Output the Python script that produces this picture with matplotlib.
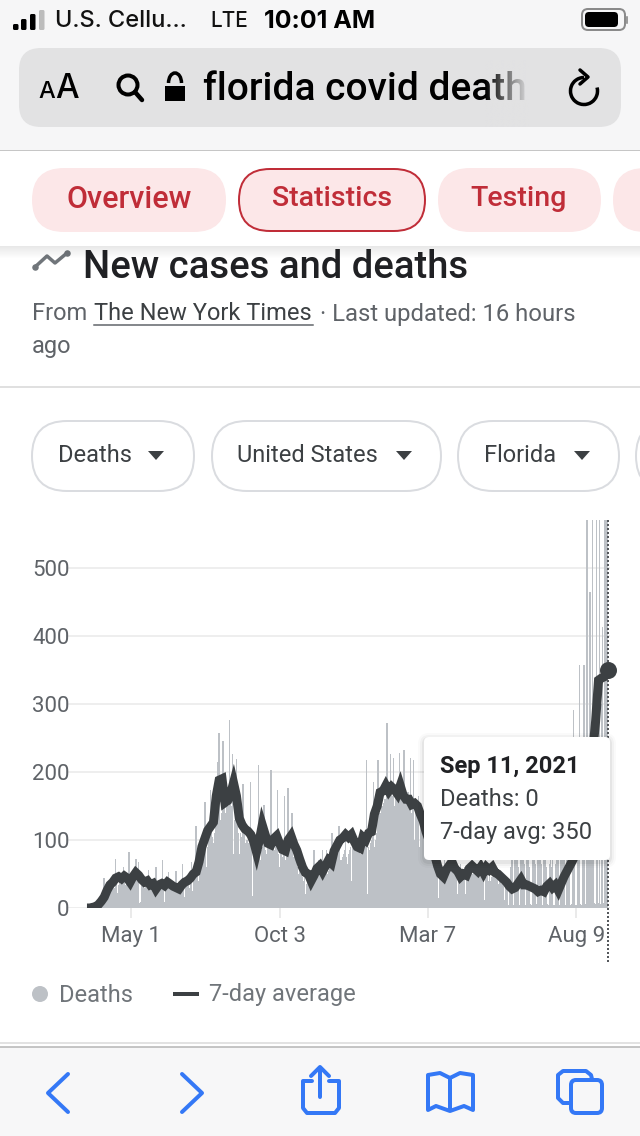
#!/usr/bin/env python
# -*- coding: utf-8 -*-

import numpy as np
import matplotlib
matplotlib.use("Agg")
import matplotlib.pyplot as plt
from matplotlib.patches import FancyBboxPatch, Rectangle, Circle, Arc, Polygon

plt.rcParams["font.family"] = ["Roboto", "DejaVu Sans"]

# Daily deaths from Mar 16, 2020, one row per week
daily_deaths = [
    0, 0, 1, 0, 2, 1, 3,
    3, 2, 4, 5, 6, 3, 5,
    7, 9, 12, 10, 44, 20, 14,
    20, 24, 28, 30, 25, 27, 33,
    30, 28, 72, 40, 22, 34, 38,
    36, 40, 38, 60, 41, 34, 22,
    38, 42, 83, 45, 42, 36, 30,
    40, 36, 72, 44, 48, 68, 7,
    9, 38, 42, 40, 30, 36, 34,
    36, 56, 40, 38, 32, 14, 30,
    28, 30, 60, 35, 30, 12, 28,
    32, 30, 70, 38, 9, 30, 32,
    30, 53, 35, 30, 28, 34, 20,
    34, 32, 54, 30, 7, 32, 28,
    30, 34, 65, 36, 16, 34, 38,
    36, 40, 30, 42, 68, 25, 42,
    44, 48, 120, 58, 40, 20, 52,
    60, 70, 85, 75, 156, 70, 60,
    90, 100, 110, 173, 115, 105, 95,
    110, 125, 140, 215, 150, 257, 120,
    130, 140, 245, 150, 75, 140, 150,
    140, 150, 276, 160, 150, 227, 80,
    130, 140, 219, 130, 110, 80, 110,
    105, 100, 183, 110, 95, 70, 100,
    95, 90, 100, 186, 100, 17, 85,
    90, 80, 95, 100, 210, 85, 70,
    85, 90, 95, 151, 85, 7, 80,
    90, 85, 95, 203, 85, 7, 90,
    85, 95, 100, 173, 80, 60, 85,
    85, 75, 90, 164, 70, 45, 100,
    177, 95, 90, 100, 140, 60, 75,
    75, 70, 65, 60, 50, 65, 55,
    50, 45, 40, 50, 20, 35, 40,
    35, 40, 38, 30, 45, 25, 85,
    40, 35, 45, 50, 70, 20, 50,
    45, 85, 50, 55, 60, 85, 50,
    55, 60, 65, 70, 110, 15, 60,
    65, 70, 75, 80, 120, 70, 30,
    70, 75, 80, 85, 100, 75, 65,
    80, 85, 90, 40, 95, 90, 85,
    90, 85, 100, 60, 95, 80, 70,
    85, 90, 95, 90, 100, 218, 20,
    90, 85, 95, 100, 105, 186, 90,
    100, 110, 120, 218, 130, 140, 135,
    150, 145, 155, 160, 140, 272, 165,
    160, 165, 227, 170, 165, 220, 150,
    170, 165, 175, 180, 228, 120, 165,
    170, 160, 233, 175, 110, 160, 170,
    165, 150, 220, 140, 155, 218, 100,
    150, 145, 140, 165, 90, 135, 130,
    125, 120, 130, 135, 120, 110, 100,
    90, 80, 100, 70, 85, 75, 65,
    70, 55, 60, 15, 65, 50, 60,
    60, 50, 70, 15, 45, 65, 55,
    40, 65, 25, 55, 60, 50, 45,
    50, 60, 20, 55, 40, 65, 50,
    55, 45, 60, 20, 50, 60, 45,
    55, 60, 25, 50, 45, 55, 50,
    60, 50, 45, 20, 55, 60, 50,
    50, 55, 12, 50, 45, 50, 40,
    50, 40, 10, 45, 40, 50, 45,
    40, 45, 10, 35, 40, 15, 35,
    35, 40, 12, 38, 30, 35, 5,
    30, 60, 75, 80, 5, 5, 70,
    75, 85, 60, 5, 5, 80, 70,
    75, 65, 5, 4, 80, 70, 85,
    60, 6, 5, 70, 75, 80, 65,
    5, 6, 75, 60, 70, 65, 5,
    5, 70, 75, 60, 55, 6, 5,
    65, 70, 60, 75, 4, 5, 65,
    70, 80, 85, 5, 5, 90, 100,
    110, 95, 5, 4, 120, 130, 150,
    160, 5, 6, 180, 291, 190, 5,
    5, 200, 210, 357, 6, 5, 220,
    230, 357, 6, 5, 650, 240, 7,
    465, 250, 8, 650, 260, 7, 6,
    650, 270, 7, 650, 6, 300, 413,
    8, 640, 650, 630, 650, 0,
]

# 7-day average, read every third day, the last value on the last day
avg_values = [
    0, 0, 1, 2, 5, 10, 16, 26, 34, 38, 44, 46, 43, 47, 44, 38, 46, 52, 48, 42,
    38, 40, 34, 36, 28, 34, 36, 33, 38, 35, 32, 30, 28, 34, 38, 40, 44, 50, 53,
    68, 90, 102, 114, 120, 126, 165, 188, 190, 155, 158, 168, 184, 165, 132,
    122, 116, 113, 108, 98, 82, 100, 122, 108, 95, 93, 102, 106, 95, 86, 84,
    100, 106, 94, 85, 72, 60, 52, 50, 40, 48, 58, 62, 54, 62, 70, 66, 84, 92,
    100, 103, 108, 104, 108, 98, 90, 88, 104, 100, 110, 112, 138, 150, 170,
    172, 180, 172, 178, 174, 168, 180, 166, 160, 160, 152, 154, 150, 138, 128,
    112, 100, 90, 78, 62, 50, 46, 56, 62, 68, 58, 54, 46, 50, 48, 58, 62, 58,
    54, 60, 52, 60, 56, 60, 52, 50, 46, 42, 38, 32, 28, 30, 36, 42, 34, 34, 32,
    30, 28, 24, 26, 24, 32, 36, 30, 34, 26, 36, 46, 54, 62, 70, 80, 90, 98,
    110, 150, 190, 230, 275, 335, 338, 340, 345, 350,
]
avg_days = [3 * i for i in range(len(avg_values) - 1)] + [544]

y_ticks = [0, 100, 200, 300, 400, 500]
x_tick_days = [46, 201, 356, 511]
x_tick_labels = ["May 1", "Oct 3", "Mar 7", "Aug 9"]

BAR = "#bdc1c6"
LINE = "#3c4043"
GREY_TEXT = "#5f6368"
RED = "#c02d38"
PINK = "#fce7e8"
BLUE = "#3478f6"
W, H = 640, 1136
PX = 72.0 / 100  # one pixel in points

fig = plt.figure(figsize=(6.4, 11.36), dpi=100, facecolor="white")

# Chart
ax = fig.add_axes([68 / W, 1 - 908 / H, (610 - 68) / W, (908 - 520) / H])
ax.patch.set_visible(False)
days = np.arange(len(daily_deaths))
ax.bar(days, daily_deaths, width=1.5, color=BAR, linewidth=0, zorder=2)
ax.plot(avg_days, avg_values, color=LINE, lw=9 * PX, zorder=3,
        solid_joinstyle="miter", solid_capstyle="butt")
ax.axvline(days[-1], ymin=-0.14, ymax=1, color="#55585c", lw=2 * PX,
           ls=(0, (1, 1)), clip_on=False, zorder=4)
ax.plot([avg_days[-1]], [avg_values[-1]], "o", color=LINE, ms=17 * PX, mew=0,
        zorder=5, clip_on=False)
ax.set_xlim(-19.8, 546)
ax.set_ylim(0, 570.6)
ax.set_yticks(y_ticks)
ax.set_xticks(x_tick_days)
ax.set_xticklabels(x_tick_labels)
ax.grid(axis="y", color="#eeeeee", lw=2 * PX)
ax.set_axisbelow(True)
ax.tick_params(axis="y", length=0, pad=-1, labelsize=16, labelcolor=GREY_TEXT)
ax.tick_params(axis="x", length=10 * PX, width=1.5 * PX, color="#e4e4e4",
               pad=6, labelsize=16, labelcolor=GREY_TEXT)
for spine in ax.spines.values():
    spine.set_visible(False)

# Everything around the chart is drawn in pixel coordinates
ui = fig.add_axes([0, 0, 1, 1], zorder=3)
ui.set_xlim(0, W)
ui.set_ylim(H, 0)
ui.axis("off")


def pill(x0, y0, x1, y1, fc, ec="none", lw=0, r=None, z=2):
    r = (y1 - y0) / 2 if r is None else r
    ui.add_patch(FancyBboxPatch((x0 + r, y0 + r), x1 - x0 - 2 * r,
                                y1 - y0 - 2 * r,
                                boxstyle="round,pad={0},rounding_size={0}".format(r),
                                fc=fc, ec=ec, lw=lw * PX, zorder=z))


def label(x, y, s, size, color, weight="normal", ha="left", family="Roboto", z=6):
    return ui.text(x, y + 2, s, fontsize=size, color=color, weight=weight, ha=ha,
                   va="center", family=[family, "DejaVu Sans"], zorder=z)


def stroke(xs, ys, color=BLUE, lw=4, z=6, **kw):
    ui.plot(xs, ys, color=color, lw=lw * PX, zorder=z, solid_capstyle="round",
            solid_joinstyle="round", **kw)


# Safari top bar
ui.add_patch(Rectangle((0, 0), W, 150, fc="#f6f6f7", zorder=1))
ui.plot([0, W], [150.5, 150.5], color="#b4b4b4", lw=1.5 * PX, zorder=2)
for bx, by, c in zip([13, 21, 30, 39], [24, 19, 14, 10],
                     ["k", "k", "k", "#bcbcbc"]):
    pill(bx, by, bx + 5.5, 30, c, r=1.5)
label(55, 19, "U.S. Cellu...", 17, "#111111", "medium", family="Inter")
label(210, 19, "LTE", 15, "#111111", "medium", family="Inter")
label(264, 19, "10:01 AM", 18, "#000000", "bold", family="Inter")
pill(582, 9, 625, 30, "#f6f6f7", ec="#8a8a8a", lw=2, r=6)
pill(585, 12, 618, 27, "k", r=4)
pill(626, 16, 628, 24, "#9a9a9a", r=1)

pill(19, 48, 621, 127, "#e2e2e3", r=22)
label(38, 90, "A", 17, "k", "medium", family="Inter")
label(55, 87, "A", 24, "k", "medium", family="Inter")
ui.add_patch(Circle((128, 85), 9.5, fc="none", ec="k", lw=4 * PX, zorder=6))
stroke([135, 142], [92, 100], color="k", lw=4.5)
ui.add_patch(Rectangle((165, 86), 20, 15, fc="k", zorder=6))
ui.add_patch(Arc((175, 83), 13, 20, theta1=180, theta2=360, ec="k",
                 lw=3.5 * PX, zorder=6))
label(203, 87, "florida covid death", 28, "k", "medium")
# the address fades out on its right side
fade = np.zeros((1, 64, 4))
fade[..., :3] = matplotlib.colors.to_rgb("#e2e2e3")
fade[..., 3] = np.linspace(0, 1, 64)
ui.imshow(fade, extent=(485, 529, 127, 60), aspect="auto", zorder=7)
ui.set_xlim(0, W)
ui.set_ylim(H, 0)
ui.add_patch(Arc((584, 91), 27, 27, theta1=-15, theta2=270, ec="k",
                 lw=3.5 * PX, zorder=8))
stroke([580, 588, 580], [70, 77, 84], color="k", lw=3.5, z=8)

# Tabs under the address bar
ui.add_patch(Rectangle((0, 151), W, 95, fc="white", zorder=4))
for i in range(12):
    ui.add_patch(Rectangle((0, 246 + i), W, 1, fc="k", lw=0,
                           alpha=0.09 * (1 - i / 12.0), zorder=4))
pill(32, 168, 226, 232, PINK, z=5)
pill(239, 169, 425, 231, PINK, ec=RED, lw=2, z=5)
pill(438, 168, 601, 232, PINK, z=5)
pill(613, 168, 700, 232, PINK, z=5)
label(129, 197, "Overview", 22, RED, "medium", ha="center")
label(332, 197, "Statistics", 20.5, RED, "medium", ha="center")
label(519, 197, "Testing", 20.5, RED, "medium", ha="center")

# Section heading
stroke([35, 47, 55, 67], [267, 256, 263, 253], color="#70757a", lw=3.5, z=3)
ui.scatter([35, 67], [267, 253], s=22, color="#70757a", zorder=3, linewidths=0)
label(83, 265, "New cases and deaths", 27.5, "#202124", "medium", z=3)
label(32, 312, "From", 17, GREY_TEXT)
label(94, 312, "The New York Times", 17, "#3c4043")
ui.plot([94, 313], [325, 325], color="#5f6368", lw=1.5 * PX, zorder=3)
label(320, 312, "\u00b7 Last updated: 16 hours", 17.2, GREY_TEXT)
label(32, 344, "ago", 17, GREY_TEXT)
ui.plot([0, W], [387, 387], color="#e0e0e0", lw=2 * PX, zorder=2)

# Dropdown chips
for x0, x1, name, tx, arrow in [(32, 194, "Deaths", 58, 156),
                                (212, 441, "United States", 237, 404),
                                (458, 619, "Florida", 484, 582),
                                (636, 720, "", 0, 0)]:
    pill(x0, 421, x1, 491, "white", ec="#dadce0", lw=2, z=2)
    if name:
        label(tx, 454, name, 17, LINE)
        ui.add_patch(Polygon([(arrow - 8, 451), (arrow + 8, 451), (arrow, 460)],
                             fc=LINE, ec="none", zorder=6))

# Tooltip
for grow, alpha in [(6, 0.02), (4, 0.03), (2, 0.05)]:
    pill(424 - grow, 737 - grow + 2, 610 + grow, 860 + grow + 2, "k", r=5 + grow, z=5)
    ui.patches[-1].set_alpha(alpha)
pill(424, 737, 610, 860, "white", r=5, z=5)
label(440, 765, "Sep 11, 2021", 17, "#202124", "bold")
label(440, 798, "Deaths: 0", 17, LINE)
label(440, 831, "7-day avg: 350", 17, LINE)

# Legend
ui.add_patch(Circle((40, 994), 8, fc=BAR, ec="none", zorder=3))
label(59, 993, "Deaths", 17, "#70757a")
ui.plot([173, 199], [994, 994], color=LINE, lw=4 * PX, zorder=3,
        solid_capstyle="butt")
label(209, 993, "7-day average", 17, "#70757a")
ui.plot([0, W], [1043, 1043], color="#e2e2e2", lw=2 * PX, zorder=3)

# Safari bottom bar
ui.add_patch(Rectangle((0, 1047), W, H - 1047, fc="#f7f7f8", zorder=1))
ui.plot([0, W], [1047, 1047], color="#b4b4b4", lw=1.5 * PX, zorder=2)
stroke([68, 48, 68], [1074, 1093, 1112])
stroke([182, 202, 182], [1074, 1093, 1112])
stroke([320, 320], [1068, 1097])
stroke([311, 320, 329], [1076, 1067, 1076])
stroke([312, 303, 303, 307, 335, 339, 339, 329],
       [1081, 1081, 1108, 1113, 1113, 1108, 1081, 1081])
stroke([450, 450], [1078, 1110])
stroke([450, 440, 428, 428, 436, 450, 464, 473, 473, 460, 450],
       [1078, 1073, 1075, 1110, 1106, 1111, 1106, 1110, 1075, 1073, 1078])
pill(571, 1080, 602, 1113, "#f7f7f8", ec=BLUE, lw=4, r=5, z=6)
stroke([569, 563, 558, 558, 563, 586, 591, 592],
       [1103, 1103, 1098, 1075, 1071, 1071, 1075, 1079])

fig.savefig("out.png", dpi=100)
plt.close(fig)
